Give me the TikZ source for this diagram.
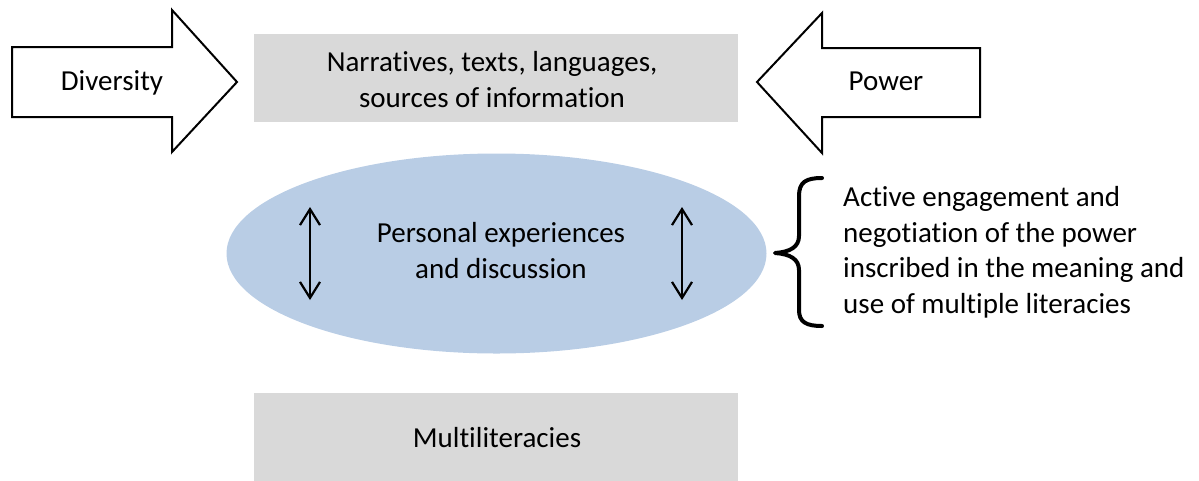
\documentclass[tikz,border=0pt]{standalone}
\usepackage{fontspec}
\setmainfont{Carlito}[Ligatures=NoCommon]
\usetikzlibrary{arrows.meta}
\definecolor{boxgray}{HTML}{D9D9D9}
\definecolor{ellblue}{HTML}{B9CDE5}
\begin{document}
\begin{tikzpicture}[x=1pt,y=-1pt,
  graybox/.style={fill=boxgray, draw=none, inner sep=0pt},
  blockarrow/.style={draw=black, fill=white, line width=2pt, line join=miter},
  txt/.style={font=\fontsize{29}{35.4}\selectfont, inner sep=0pt, anchor=base, align=center},
  txtl/.style={font=\fontsize{29}{35.4}\selectfont, inner sep=0pt, anchor=base west, align=left},
  dbl/.style={line width=2.2pt, {Straight Barb[length=16pt,width=20pt,line width=2.2pt]}-{Straight Barb[length=16pt,width=20pt,line width=2.2pt]}},
  bracestyle/.style={line width=4pt, line cap=round, line join=round}
]
\useasboundingbox (0,0) rectangle (1199,480);

% gray boxes
\node[graybox, minimum width=484pt, minimum height=88pt] (topbox) at (496,78) {};
\node[graybox, minimum width=484pt, minimum height=88pt] (botbox) at (496,437) {};

% ellipse
\fill[ellblue] (496.5,253.5) ellipse [x radius=270, y radius=100];
\coordinate (ell) at (496.5,253.5);

% block arrows
\draw[blockarrow] (12,47) -- (172,47) -- (172,10) -- (237,82) -- (172,152) -- (172,117) -- (12,117) -- cycle;
\draw[blockarrow] (980,48) -- (822,48) -- (822,13) -- (757,82) -- (822,153) -- (822,117) -- (980,117) -- cycle;

% texts
\node[txt] (div) at (112,90) {Diversity};
\node[txt] (pow) at (886,90) {Power};
\node[txt] (narr) at (492,107) {Narratives, texts, languages,\\sources of information};
\node[txt] (pers) at (501,278) {Personal experiences\\and discussion};
\node[txt] (multi) at (497,447) {Multiliteracies};
\node[txtl] (active) at (843,313) {Active engagement and\\negotiation of the power\\inscribed in the meaning and\\use of multiple literacies};

% double arrows
\coordinate (la1) at (310,207);
\coordinate (la2) at (310,300);
\coordinate (ra1) at (682,207);
\coordinate (ra2) at (682,300);
\draw[dbl] (la1) -- (la2);
\draw[dbl] (ra1) -- (ra2);

% brace
\draw[bracestyle] (822,178) .. controls (806,178) and (799,182) .. (799,196) -- (799,236)
  .. controls (799,247) and (790,252) .. (775,253)
  .. controls (790,254) and (799,259) .. (799,270) -- (799,310)
  .. controls (799,322) and (806,326) .. (822,326);
\end{tikzpicture}
\end{document}
